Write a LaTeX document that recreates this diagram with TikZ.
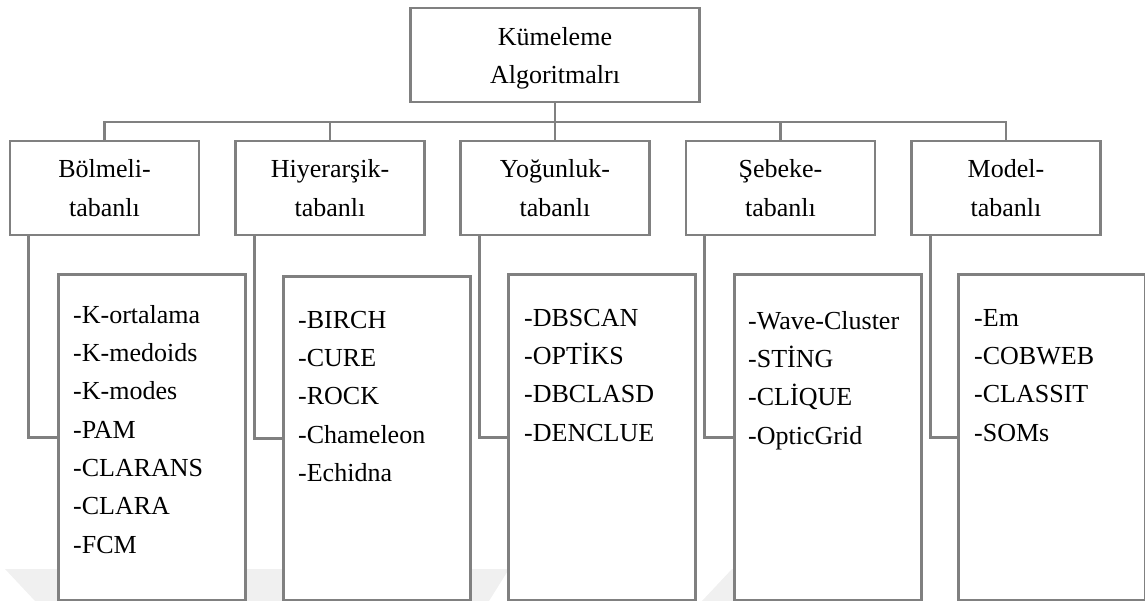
\documentclass[tikz,border=0pt]{standalone}
\usepackage{fontspec}
\setmainfont{Liberation Serif}
\definecolor{linegray}{RGB}{128,128,128}
\definecolor{markgray}{RGB}{240,240,240}
\begin{document}
\begin{tikzpicture}[x=1pt,y=-1pt,
  link/.style={draw=linegray, line width=2.6pt},
  boxbase/.style={draw=linegray, line width=2.6pt, fill=white, rectangle, inner sep=0pt},
  txt/.style={font=\fontsize{26}{38.3}\selectfont},
  topbox/.style={boxbase, txt, align=center, minimum width=289pt, minimum height=94pt},
  catbox/.style={boxbase, txt, align=center, minimum width=189pt, minimum height=94pt},
  listbox/.style={boxbase, anchor=north west, minimum width=187pt, minimum height=326pt},
  listtext/.style={txt, inner sep=0pt, anchor=north west, align=left}
]
\useasboundingbox (0,0) rectangle (1145,601);

% faint background band along the bottom
\fill[markgray] (5,569) -- (509,569) -- (489,601) -- (35,601) -- cycle;
\fill[markgray] (732,569) -- (921,569) -- (921,601) -- (702,601) -- cycle;

% root
\node[topbox] (root) at (555,55) {\rule{0pt}{25pt}Kümeleme\\Algoritmalrı};

% categories
\node[catbox] (c1) at (104.5,188) {Bölmeli-\\tabanlı};
\node[catbox] (c2) at (330,188)   {Hiyerarşik-\\tabanlı};
\node[catbox] (c3) at (555,188)   {Yoğunluk-\\tabanlı};
\node[catbox] (c4) at (780.5,188) {Şebeke-\\tabanlı};
\node[catbox] (c5) at (1006,188)  {Model-\\tabanlı};

% algorithm lists
\node[listbox] (l1) at (57,273) {};
\node[listbox, minimum height=324pt] (l2) at (282,275) {};
\node[listbox] (l3) at (507,273) {};
\node[listbox] (l4) at (733,273) {};
\node[listbox] (l5) at (957,273) {};

\node[listtext] (t1) at (73,303) {\rule{0pt}{20pt}-K-ortalama\\-K-medoids\\-K-modes\\-PAM\\-CLARANS\\-CLARA\\-FCM};
\node[listtext] (t2) at (298,308) {\rule{0pt}{20pt}-BIRCH\\-CURE\\-ROCK\\-Chameleon\\-Echidna};
\node[listtext] (t3) at (524,306) {\rule{0pt}{20pt}-DBSCAN\\-OPTİKS\\-DBCLASD\\-DENCLUE};
\node[listtext] (t4) at (748,309) {\rule{0pt}{20pt}-Wave-Cluster\\-STİNG\\-CLİQUE\\-OpticGrid};
\node[listtext] (t5) at (974,306) {\rule{0pt}{20pt}-Em\\-COBWEB\\-CLASSIT\\-SOMs};

% tree connectors
\coordinate (bus) at (0,122);
\draw[link] (root.south) -- (c3.north);
\draw[link] (c1.north) -- (c1.north |- bus) -- (c5.north |- bus) -- (c5.north);
\draw[link] (c2.north) -- (c2.north |- bus);
\draw[link] (c4.north) -- (c4.north |- bus);

% elbows from each category to its list
\foreach \i in {1,...,5}
  \draw[link] ([xshift=20pt]c\i.south west) |- (l\i.west);
\end{tikzpicture}
\end{document}
